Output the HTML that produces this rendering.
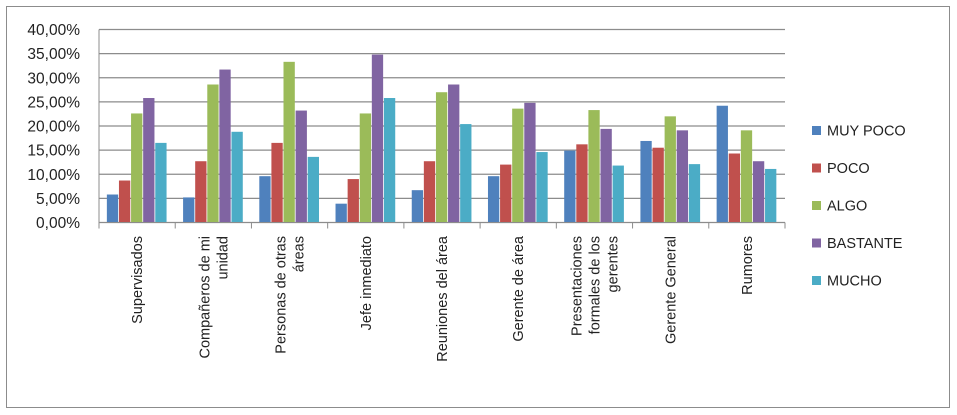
<!DOCTYPE html>
<html><head><meta charset="utf-8"><style>
body{margin:0;background:#fff;}
svg{display:block;font-family:"Liberation Sans",sans-serif;}
</style></head><body>
<svg id="chart" width="957" height="415">
<rect x="6.5" y="6.5" width="943" height="401" fill="#fff" stroke="#8c8c8c"/>
<g id="grid"></g><g id="bars"></g><g id="axes"></g><g id="legend"></g>
</svg>
<script>
const categories=[["Supervisados"],["Compañeros de mi","unidad"],["Personas de otras","áreas"],["Jefe inmediato"],["Reuniones del área"],["Gerente de área"],["Presentaciones","formales de los","gerentes"],["Gerente General"],["Rumores"]];
const seriesNames=["MUY POCO","POCO","ALGO","BASTANTE","MUCHO"];
const muyPoco=[5.8,5.2,9.6,3.9,6.7,9.6,14.9,16.9,24.2];
const poco=[8.7,12.7,16.5,9.0,12.7,12.0,16.2,15.5,14.3];
const algo=[22.6,28.6,33.3,22.6,27.0,23.6,23.3,22.0,19.1];
const bastante=[25.8,31.7,23.2,34.8,28.6,24.8,19.4,19.1,12.7];
const mucho=[16.5,18.8,13.6,25.8,20.4,14.6,11.8,12.1,11.1];
const yTicks=[0,5,10,15,20,25,30,35,40];
const colors=["#4f81bd","#c0504d","#9bbb59","#8064a2","#4bacc6"];
const series=[muyPoco,poco,algo,bastante,mucho];
const NS="http://www.w3.org/2000/svg";
const x0=99,x1=785,y0=222.5,yTop=29.5,ymax=40;
const y=v=>y0-(v/ymax)*(y0-yTop);
const cw=(x1-x0)/categories.length;
function mk(tag,attrs,parent){const e=document.createElementNS(NS,tag);for(const k in attrs)e.setAttribute(k,attrs[k]);parent.appendChild(e);return e;}
const grid=document.getElementById('grid'),bars=document.getElementById('bars'),axes=document.getElementById('axes'),legend=document.getElementById('legend');
yTicks.forEach(t=>{
 const l=mk('line',{x1:x0,x2:x1,y1:y(t),y2:y(t),stroke:'#8c8c8c','stroke-width':1.2},grid);
 
 
 const tx=mk('text',{x:x0-19,y:y(t)+5.5,'text-anchor':'end','font-size':15.5,fill:'#222'},axes);
 tx.textContent=t.toFixed(2).replace('.',',')+'%';
 
 
});
const ax=mk('line',{x1:x0,x2:x0,y1:yTop,y2:y0,stroke:'#8c8c8c'},axes);


const bw=12.1;
categories.forEach((c,i)=>{
 const gx=x0+i*cw+(cw-bw*5)/2;
 series.forEach((s,j)=>{
  const r=mk('rect',{x:gx+j*bw,y:y(s[i]),width:bw-0.8,height:y0-y(s[i]),fill:colors[j]},bars);
  
  
 });
 const tk=mk('line',{x1:x0+i*cw,x2:x0+i*cw,y1:y0,y2:y0+6,stroke:'#8c8c8c'},axes);
 
 
 const cx=x0+i*cw+cw/2,n=c.length,lh=18;
 c.forEach((line,k)=>{
  const px=cx+(k-(n-1)/2)*lh+5;
  const t=mk('text',{x:0,y:0,transform:`translate(${px},236) rotate(-90)`,'text-anchor':'end','font-size':14.5,fill:'#222'},axes);
  t.textContent=line;
  
  
 });
});
const lt=mk('line',{x1:x1,x2:x1,y1:y0,y2:y0+6,stroke:'#8c8c8c'},axes);


const xa=mk('line',{x1:x0,x2:x1,y1:y0,y2:y0,stroke:'#8c8c8c'},axes);


seriesNames.forEach((nm,j)=>{
 const ly=135+j*37.5;
 const g=mk('g',{},legend);
 
 
 mk('rect',{x:812,y:ly-9,width:9,height:9,fill:colors[j]},g);
 const t=mk('text',{x:827,y:ly+0.5,'font-size':14.5,fill:'#222'},g);
 t.textContent=nm;
});
</script>
</body></html>
